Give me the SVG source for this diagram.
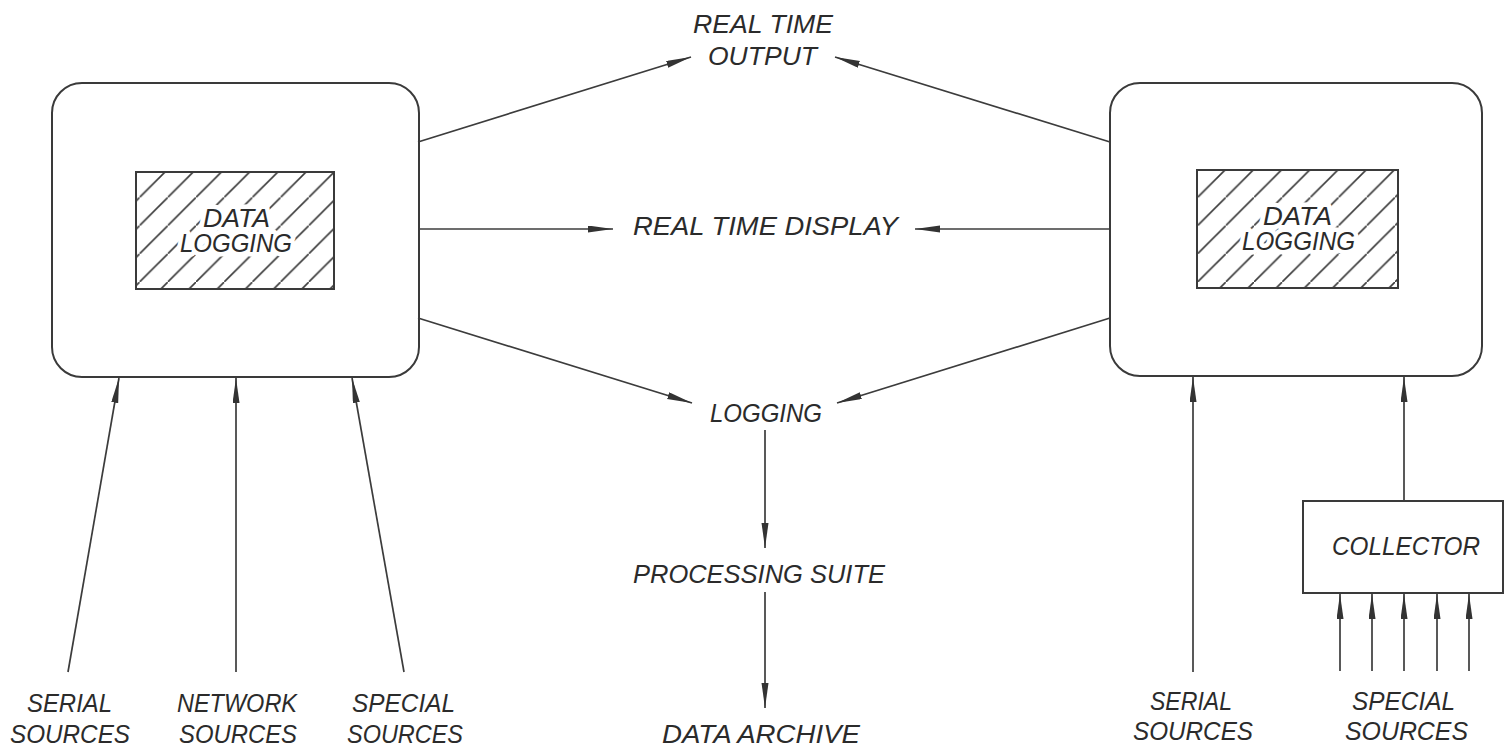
<svg xmlns="http://www.w3.org/2000/svg" width="1512" height="751" viewBox="0 0 1512 751">
  <style>
    .box { fill: none; stroke: #3a3a3a; stroke-width: 2; }
    .wire { fill: none; stroke: #3c3c3c; stroke-width: 1.7; marker-end: url(#head); }
    .lbl { font-family: "Liberation Sans", Arial, sans-serif; font-style: italic; font-size: 26px; fill: #2b2b2b; }
    .inner { font-family: "Liberation Sans", Arial, sans-serif; font-style: italic; font-size: 25px; fill: #2b2b2b;
             stroke: #ffffff; stroke-width: 9; stroke-linejoin: round; paint-order: stroke; }
  </style>
  <defs>
    <marker id="head" markerUnits="userSpaceOnUse" markerWidth="26" markerHeight="8" refX="25" refY="3.5" orient="auto">
      <path d="M0,0 L25,3.5 L0,7 Z" fill="#333"/>
    </marker>
    <!-- 45 degree hatching, one phase per logger -->
    <pattern id="hatchL" patternUnits="userSpaceOnUse" x="26.8" y="0" width="28.2" height="28.2">
      <path d="M-2,30.2 L30.2,-2" stroke="#3a3a3a" stroke-width="1.6"/>
    </pattern>
    <pattern id="hatchR" patternUnits="userSpaceOnUse" x="13.2" y="0" width="28.2" height="28.2">
      <path d="M-2,30.2 L30.2,-2" stroke="#3a3a3a" stroke-width="1.6"/>
    </pattern>
  </defs>

  <rect width="1512" height="751" fill="#ffffff"/>

  <!-- left data logger -->
  <g id="logger-left">
    <rect class="box" x="52" y="83" width="367" height="294" rx="30"/>
    <rect x="136" y="172" width="198" height="117" fill="url(#hatchL)" stroke="#3a3a3a" stroke-width="2"/>
    <text class="inner" x="203" y="227" textLength="67" lengthAdjust="spacingAndGlyphs">DATA</text>
    <text class="inner" x="180" y="252" textLength="112" lengthAdjust="spacingAndGlyphs">LOGGING</text>
  </g>

  <!-- right data logger -->
  <g id="logger-right">
    <rect class="box" x="1110" y="83" width="372" height="293" rx="30"/>
    <rect x="1197" y="170" width="201" height="118" fill="url(#hatchR)" stroke="#3a3a3a" stroke-width="2"/>
    <text class="inner" x="1263" y="225" textLength="69" lengthAdjust="spacingAndGlyphs">DATA</text>
    <text class="inner" x="1242" y="250" textLength="113" lengthAdjust="spacingAndGlyphs">LOGGING</text>
  </g>

  <g id="collector">
    <rect class="box" x="1303" y="501" width="200" height="92"/>
    <text class="lbl" x="1332" y="555" textLength="148" lengthAdjust="spacingAndGlyphs">COLLECTOR</text>
  </g>

  <g id="realtime-output">
    <text class="lbl" x="693" y="33" textLength="140" lengthAdjust="spacingAndGlyphs">REAL TIME</text>
    <text class="lbl" x="708" y="65" textLength="109" lengthAdjust="spacingAndGlyphs">OUTPUT</text>
  </g>
  <g id="realtime-display">
    <text class="lbl" x="633" y="235" textLength="265" lengthAdjust="spacingAndGlyphs">REAL TIME DISPLAY</text>
  </g>
  <g id="logging">
    <text class="lbl" x="710" y="422" textLength="112" lengthAdjust="spacingAndGlyphs">LOGGING</text>
  </g>
  <g id="processing-suite">
    <text class="lbl" x="633" y="583" textLength="252" lengthAdjust="spacingAndGlyphs">PROCESSING SUITE</text>
  </g>
  <g id="data-archive">
    <text class="lbl" x="662" y="743" textLength="198" lengthAdjust="spacingAndGlyphs">DATA ARCHIVE</text>
  </g>

  <g id="src-serial-left">
    <text class="lbl" x="27" y="712" textLength="85" lengthAdjust="spacingAndGlyphs">SERIAL</text>
    <text class="lbl" x="10" y="743" textLength="120" lengthAdjust="spacingAndGlyphs">SOURCES</text>
  </g>
  <g id="src-network-left">
    <text class="lbl" x="177" y="712" textLength="120" lengthAdjust="spacingAndGlyphs">NETWORK</text>
    <text class="lbl" x="179" y="743" textLength="118" lengthAdjust="spacingAndGlyphs">SOURCES</text>
  </g>
  <g id="src-special-left">
    <text class="lbl" x="352" y="712" textLength="103" lengthAdjust="spacingAndGlyphs">SPECIAL</text>
    <text class="lbl" x="347" y="743" textLength="116" lengthAdjust="spacingAndGlyphs">SOURCES</text>
  </g>
  <g id="src-serial-right">
    <text class="lbl" x="1150" y="710" textLength="82" lengthAdjust="spacingAndGlyphs">SERIAL</text>
    <text class="lbl" x="1133" y="740" textLength="120" lengthAdjust="spacingAndGlyphs">SOURCES</text>
  </g>
  <g id="src-special-right">
    <text class="lbl" x="1352" y="710" textLength="103" lengthAdjust="spacingAndGlyphs">SPECIAL</text>
    <text class="lbl" x="1345" y="740" textLength="123" lengthAdjust="spacingAndGlyphs">SOURCES</text>
  </g>

  <!-- connectors -->
  <g id="connectors">
    <line class="wire" x1="418" y1="142" x2="691" y2="57"/>
    <line class="wire" x1="1110" y1="142" x2="835" y2="57"/>
    <line class="wire" x1="418" y1="229" x2="613" y2="229"/>
    <line class="wire" x1="1110" y1="229" x2="915" y2="229"/>
    <line class="wire" x1="418" y1="318" x2="692" y2="403"/>
    <line class="wire" x1="1110" y1="318" x2="837" y2="403"/>
    <line class="wire" x1="765" y1="430" x2="765" y2="548"/>
    <line class="wire" x1="765" y1="592" x2="765" y2="708"/>

    <line class="wire" x1="68" y1="672" x2="119" y2="378"/>
    <line class="wire" x1="236" y1="672" x2="236" y2="378"/>
    <line class="wire" x1="404" y1="672" x2="352" y2="378"/>

    <line class="wire" x1="1193" y1="672" x2="1193" y2="377"/>
    <line class="wire" x1="1404" y1="501" x2="1404" y2="377"/>

    <line class="wire" x1="1340" y1="671" x2="1340" y2="594"/>
    <line class="wire" x1="1372" y1="671" x2="1372" y2="594"/>
    <line class="wire" x1="1404" y1="671" x2="1404" y2="594"/>
    <line class="wire" x1="1437" y1="671" x2="1437" y2="594"/>
    <line class="wire" x1="1469" y1="671" x2="1469" y2="594"/>
  </g>
</svg>
